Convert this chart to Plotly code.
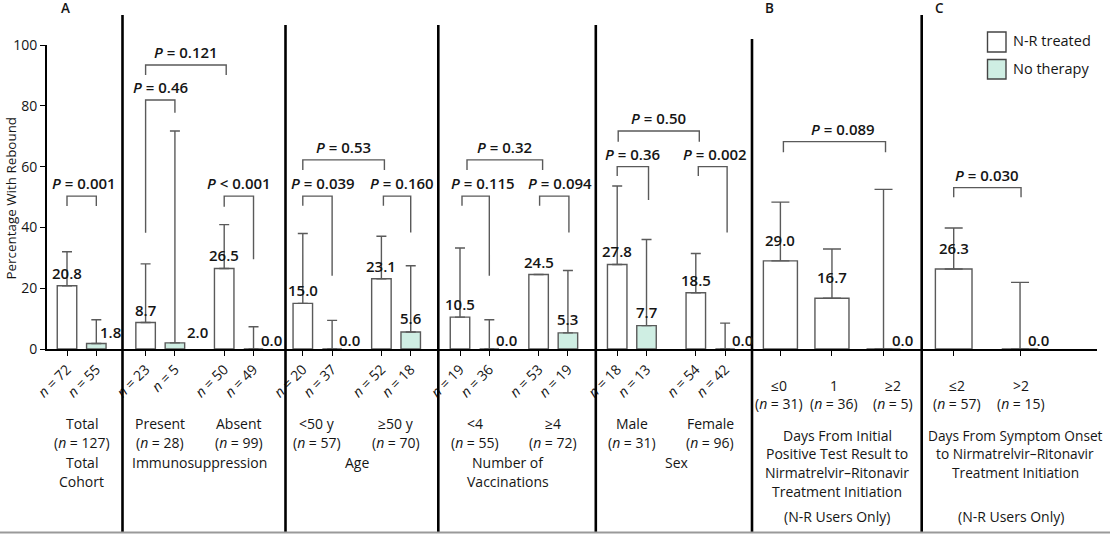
import plotly.graph_objects as go

# ---------------- data ----------------
subgroups = ["Total", "Present", "Absent", "&lt;50 y", "≥50 y", "&lt;4", "≥4", "Male", "Female"]
subgroup_n = [127, 28, 99, 57, 70, 55, 72, 31, 96]

treated_n = [72, 23, 50, 20, 52, 19, 53, 18, 54]
treated_pct = [20.8, 8.7, 26.5, 15.0, 23.1, 10.5, 24.5, 27.8, 18.5]
treated_ci_hi = [32.0, 28.0, 40.9, 38.0, 37.1, 33.2, None, 53.6, 31.4]

untreated_n = [55, 5, 49, 37, 18, 36, 19, 13, 42]
untreated_pct = [1.8, 2.0, 0.0, 0.0, 5.6, 0.0, 5.3, 7.7, 0.0]
untreated_ci_hi = [9.6, 71.7, 7.3, 9.4, 27.4, 9.6, 25.8, 36.0, 8.5]

days_test_cats = ["≤0", "1", "≥2"]
days_test_n = [31, 36, 5]
days_test_pct = [29.0, 16.7, 0.0]
days_test_ci_hi = [48.3, 32.9, 52.5]

days_onset_cats = ["≤2", "&gt;2"]
days_onset_n = [57, 15]
days_onset_pct = [26.3, 0.0]
days_onset_ci_hi = [39.8, 21.9]

# comparisons: (left bar, right bar, left foot, top, right foot, p text)
comparisons = [
    (("T", 0), ("U", 0), 47.0, 50.3, 47.0, "= 0.001"),
    (("T", 1), ("U", 1), 38.2, 81.9, 77.7, "= 0.46"),
    (("T", 1), ("T", 2), 90.1, 93.4, 90.1, "= 0.121"),
    (("T", 2), ("U", 2), 46.8, 50.3, 29.5, "&lt; 0.001"),
    (("T", 3), ("T", 4), 58.9, 62.2, 58.9, "= 0.53"),
    (("T", 3), ("U", 3), 47.1, 50.3, 24.1, "= 0.039"),
    (("T", 4), ("U", 4), 47.1, 50.3, 38.3, "= 0.160"),
    (("T", 5), ("T", 6), 58.9, 62.2, 58.9, "= 0.32"),
    (("T", 5), ("U", 5), 47.1, 50.3, 24.1, "= 0.115"),
    (("T", 6), ("U", 6), 47.1, 50.3, 38.3, "= 0.094"),
    (("T", 7), ("T", 8), 68.2, 71.7, 68.2, "= 0.50"),
    (("T", 7), ("U", 7), 56.9, 60.0, 49.0, "= 0.36"),
    (("T", 8), ("U", 8), 56.9, 60.0, 38.3, "= 0.002"),
    (("B", 0), ("B", 2), 64.7, 68.2, 64.7, "= 0.089"),
    (("C", 0), ("C", 1), 49.9, 53.1, 49.9, "= 0.030"),
]

# ---------------- layout constants ----------------
W, H = 1110, 534
FONT = "Open Sans"
TXT = "#151515"
GRAY = "#5a5a5a"
MINT = "#cfeee3"

PX0, PITCH = 67.0, 78.6          # pixel position of first bar, pair pitch
def u(px):                        # pixel -> x-axis units
    return (px - PX0) / PITCH

PAIR_OFF = 0.373
B_START, B_STEP = u(780.4), 0.656
C_START, C_STEP = u(953.7), 0.844
W_A, W_B, W_C = 0.248, 0.433, 0.466

def pos(ref):
    kind, i = ref
    if kind == "T":
        return i
    if kind == "U":
        return i + PAIR_OFF
    if kind == "B":
        return B_START + B_STEP * i
    return C_START + C_STEP * i

xT = [pos(("T", i)) for i in range(len(treated_pct))]
xU = [pos(("U", i)) for i in range(len(untreated_pct))]
xB = [pos(("B", i)) for i in range(len(days_test_pct))]
xC = [pos(("C", i)) for i in range(len(days_onset_pct))]

def py(p):  # pixel y from top -> paper
    return 1 - p / H

fig = go.Figure()

def plus(vals, ci):
    return [0 if c is None else c - v for v, c in zip(vals, ci)]

bar_line = dict(color=GRAY, width=1.4)
err_common = dict(type="data", symmetric=False, color=GRAY, thickness=1.4)

fig.add_trace(go.Bar(x=xT, y=treated_pct, width=[W_A] * len(xT),
                     marker=dict(color="white", line=bar_line),
                     error_y=dict(array=plus(treated_pct, treated_ci_hi),
                                  arrayminus=[0] * len(xT), width=5, **err_common),
                     name="N-R treated", showlegend=False))
fig.add_trace(go.Bar(x=xU, y=untreated_pct, width=[W_A] * len(xU),
                     marker=dict(color=MINT, line=bar_line),
                     error_y=dict(array=plus(untreated_pct, untreated_ci_hi),
                                  arrayminus=[0] * len(xU), width=5, **err_common),
                     name="No therapy", showlegend=False))
fig.add_trace(go.Bar(x=xB, y=days_test_pct, width=[W_B] * len(xB),
                     marker=dict(color="white", line=bar_line),
                     error_y=dict(array=plus(days_test_pct, days_test_ci_hi),
                                  arrayminus=[0] * len(xB), width=9, **err_common),
                     showlegend=False))
fig.add_trace(go.Bar(x=xC, y=days_onset_pct, width=[W_C] * len(xC),
                     marker=dict(color="white", line=bar_line),
                     error_y=dict(array=plus(days_onset_pct, days_onset_ci_hi),
                                  arrayminus=[0] * len(xC), width=9, **err_common),
                     showlegend=False))

ann = []
shapes = []
vfont = dict(family=FONT, size=15, color=TXT, weight=600)

def value_label(x, v, mode, xs=0, ys=13):
    ann.append(dict(x=x, y=v, xref="x", yref="y", text=f"{v:.1f}", showarrow=False,
                    xanchor="center" if mode == "above" else "left", yanchor="middle",
                    yshift=ys, xshift=xs, font=vfont))

for x, v in zip(xT, treated_pct):
    value_label(x, v, "above", ys=13)
untreated_shift = {0: (2, 11.5), 1: (10, 11)}
for i, (x, v) in enumerate(zip(xU, untreated_pct)):
    if v == 0:
        value_label(x, v, "right", xs=5, ys=9.5)
    elif i in untreated_shift:
        xs, ys = untreated_shift[i]
        value_label(x, v, "right", xs=xs, ys=ys)
    else:
        value_label(x, v, "above", ys=14)
for x, v in zip(xB + xC, days_test_pct + days_onset_pct):
    if v == 0:
        value_label(x, v, "right", xs=6, ys=9.5)
    else:
        value_label(x, v, "above", ys=21)

# comparison brackets
bracket_dx = [(0, 0, 2), (0, 0, 0), (0, 2, 0), (0, 0, 0), (0, 3, 0), (0, 0, 6), (2, 0, 5),
              (7, 4, 0), (2, 0, 7), (1, 1, 6), (1, 3.5, 0), (0, 2, 0), (2.5, 2, 2),
              (3, 2, 9), (0, 1, 0)]
pfont = dict(family=FONT, size=15, color=TXT, weight=600)
for (l, r, lf, top, rf, txt), (dl, dr, dlab) in zip(comparisons, bracket_dx):
    x1 = pos(l) + dl / PITCH
    x2 = pos(r) + dr / PITCH
    shapes.append(dict(type="path", xref="x", yref="y",
                       path=f"M {x1},{lf} L {x1},{top} L {x2},{top} L {x2},{rf}",
                       line=dict(color=GRAY, width=1.4)))
    ann.append(dict(x=(x1 + x2) / 2, y=top, xref="x", yref="y", text=f"<i>P</i> {txt}",
                    showarrow=False, xanchor="center", yanchor="middle", yshift=13,
                    xshift=dlab, font=pfont))

# panel dividers
dividers = [(u(122.5), 15), (u(285.5), 25), (u(438.3), 25), (u(595.8), 25),
            (u(752.0), 39), (u(921.7), 15)]
for xd, top in dividers:
    shapes.append(dict(type="line", xref="x", yref="paper", x0=xd, x1=xd,
                       y0=py(top), y1=py(532), line=dict(color="black", width=2.6)))
shapes.append(dict(type="line", xref="paper", yref="paper", x0=0, x1=1,
                   y0=py(532.5), y1=py(532.5), line=dict(color="#9a9a9a", width=2)))

# legend
legend_items = [("N-R treated", "white", 32, 52), ("No therapy", MINT, 59.5, 79)]
for name, col, t, b in legend_items:
    shapes.append(dict(type="rect", xref="paper", yref="paper", x0=987.5 / W, x1=1006 / W,
                       y0=py(b), y1=py(t), fillcolor=col, line=dict(color="#444", width=1.4)))
    ann.append(dict(x=1010.5 / W, y=py((t + b) / 2 - 1), xref="paper", yref="paper", text=name,
                    showarrow=False, xanchor="left", yanchor="middle",
                    font=dict(family=FONT, size=14.5, color=TXT, weight=500)))

lfont = dict(family=FONT, size=14, color=TXT)

def text_at(x, ypx, text, font=lfont, xanchor="center", xshift=0):
    ann.append(dict(x=x, y=py(ypx), xref="x", yref="paper", text=text, showarrow=False,
                    xanchor=xanchor, yanchor="middle", font=font, xshift=xshift))

# panel A category labels
for i, (g, n) in enumerate(zip(subgroups, subgroup_n)):
    c = (xT[i] + xU[i]) / 2
    text_at(c, 423, g)
    text_at(c, 442.7, f"(<i>n</i> = {n})")
group_titles = [("Total", [0], 0, 462.7), ("Cohort", [0], 0, 481.7),
                ("Immunosuppression", [1, 2], 0, 462.7), ("Age", [3, 4], 0, 462.7),
                ("Number of", [5, 6], -6, 462.7), ("Vaccinations", [5, 6], -6, 481.7),
                ("Sex", [7, 8], 6, 462.7)]
for t, idx, xs, yy in group_titles:
    c = (xT[idx[0]] + xU[idx[-1]]) / 2
    text_at(c, yy, t, xshift=xs)

# panel B / C category labels
b_shift = [-1, 2, 9]
for x, cat, n, s in zip(xB, days_test_cats, days_test_n, b_shift):
    text_at(x, 385.7, cat, xshift=s)
    text_at(x, 403.3, f"(<i>n</i> = {n})", xshift=s)
c_shift = [3, 1]
for x, cat, n, s in zip(xC, days_onset_cats, days_onset_n, c_shift):
    text_at(x, 385.7, cat, xshift=s)
    text_at(x, 403.3, f"(<i>n</i> = {n})", xshift=s)

b_desc = ["Days From Initial", "Positive Test Result to", "Nirmatrelvir–Ritonavir",
          "Treatment Initiation"]
c_desc = ["Days From Symptom Onset", "to Nirmatrelvir–Ritonavir", "Treatment Initiation"]
for t, yy in zip(b_desc, [435, 453.3, 472.7, 491.7]):
    text_at(u(837), yy, t)
text_at(u(837), 516.7, "(N-R Users Only)")
cfont = dict(family=FONT, size=13.7, color=TXT)
for t, yy in zip(c_desc, [435, 453.3, 472.7]):
    text_at(u(1015), yy, t, font=cfont)
text_at(u(1011), 516.7, "(N-R Users Only)")

# panel letters
for letter, xp in [("A", 65), ("B", 769), ("C", 939)]:
    ann.append(dict(x=xp / W, y=py(8.5), xref="paper", yref="paper", text=letter,
                    showarrow=False, xanchor="center", yanchor="middle",
                    font=dict(family=FONT, size=13.5, color=TXT, weight=600)))

# y-axis title
ann.append(dict(x=10.5 / W, y=py(198), xref="paper", yref="paper",
                text="Percentage With Rebound", textangle=-90, showarrow=False,
                xanchor="center", yanchor="middle",
                font=dict(family=FONT, size=13.4, color=TXT)))

tickvals = xT + xU + xB + xC
ticktext = ([f"<i>n</i> = {n}" for n in treated_n] + [f"<i>n</i> = {n}" for n in untreated_n]
            + [""] * (len(xB) + len(xC)))

fig.update_layout(
    width=W, height=H, autosize=False,
    margin=dict(l=0, r=0, t=0, b=0, pad=0, autoexpand=False),
    paper_bgcolor="white", plot_bgcolor="white", barmode="overlay", showlegend=False,
    font=dict(family=FONT, color=TXT),
    xaxis=dict(domain=[46.7 / W, 1097 / W], range=[u(46.7), u(1097)], automargin=False,
               showline=True, linecolor="black", linewidth=1.5, showgrid=False,
               zeroline=False, ticks="outside", ticklen=5, tickwidth=1.3, tickcolor="black",
               tickvals=tickvals, ticktext=ticktext, tickangle=-45,
               tickfont=dict(family=FONT, size=14, color=TXT)),
    yaxis=dict(domain=[1 - 349 / H, 1 - 45 / H], range=[0, 100], automargin=False,
               showline=True, linecolor="black", linewidth=1.5, showgrid=False,
               zeroline=False, ticks="outside", ticklen=5, tickwidth=1.3, tickcolor="black",
               tickvals=[0, 20, 40, 60, 80, 100],
               tickfont=dict(family=FONT, size=14, color=TXT)),
    shapes=shapes, annotations=ann,
)

fig.write_html("out.html",
               config={"displayModeBar": False},
               post_script="document.body.style.margin='0px';"
                           "document.body.style.overflow='hidden';")
